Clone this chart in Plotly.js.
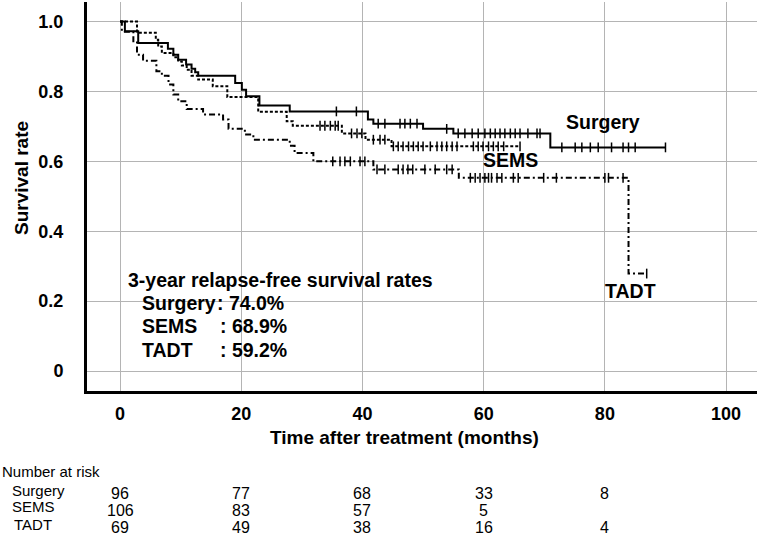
<!DOCTYPE html>
<html>
<head>
<meta charset="utf-8">
<script src="https://cdn.plot.ly/plotly-3.0.1.min.js"></script>
<style>
  body { margin: 0; background: #fff; }
  #chart { width: 762px; height: 535px; }
</style>
</head>
<body>
<div id="chart"></div>
<script>
// step points: time of drop (months) and survival after it
const surgeryTimes = [0, 0.8, 3.0, 7.9, 8.8, 9.6, 10.9, 11.8, 12.4, 12.9, 19.0, 20.1, 20.8, 23.0, 28.0, 40.9, 41.8, 50.0, 55.0, 71.0, 90.0]
const surgerySurv  = [1, 0.972, 0.939, 0.922, 0.905, 0.891, 0.877, 0.865, 0.855, 0.845, 0.824, 0.805, 0.786, 0.760, 0.743, 0.720, 0.708, 0.693, 0.680, 0.640, 0.640]
const surgeryCensor = [35.7, 39.0, 42.6, 43.7, 46.2, 47.0, 47.9, 49.0, 53.9, 55.8, 56.9, 58.1, 59.1, 60.2, 61.1, 61.9, 62.7, 63.5, 64.4, 65.2, 66.0, 67.3, 68.8, 69.3, 72.9, 75.1, 76.2, 77.6, 78.9, 81.1, 83.0, 83.9, 85.0, 90.0]

const semsTimes = [0, 2.8, 5.9, 6.3, 6.9, 8.8, 9.6, 10.2, 11.0, 11.8, 12.9, 15.3, 17.7, 22.8, 27.5, 28.5, 36.6, 40.5, 44.8, 66.0]
const semsSurv  = [1, 0.968, 0.948, 0.929, 0.910, 0.898, 0.886, 0.874, 0.862, 0.845, 0.834, 0.815, 0.784, 0.742, 0.715, 0.702, 0.680, 0.662, 0.643, 0.643]
const semsCensor = [33.0, 33.8, 34.7, 35.5, 36.0, 38.2, 39.1, 39.9, 41.8, 42.9, 43.7, 45.1, 45.9, 46.7, 47.6, 48.4, 49.2, 50.0, 51.2, 52.3, 53.1, 53.9, 54.8, 55.6, 58.3, 59.1, 59.9, 60.8, 61.6, 62.4, 63.3, 66.0]

const tadtTimes = [0, 0.3, 2.2, 2.8, 3.8, 6.0, 6.9, 8.0, 8.8, 9.6, 11.0, 13.7, 17.0, 17.9, 20.6, 22.0, 28.0, 28.8, 31.9, 41.8, 55.9, 83.9, 86.9]
const tadtSurv  = [1, 0.971, 0.940, 0.905, 0.888, 0.858, 0.845, 0.820, 0.791, 0.772, 0.750, 0.734, 0.720, 0.693, 0.677, 0.662, 0.645, 0.624, 0.600, 0.577, 0.553, 0.279, 0.279]
const tadtCensor = [35.1, 36.3, 37.1, 38.0, 39.6, 40.4, 42.4, 43.7, 45.9, 46.7, 47.5, 48.3, 50.3, 52.0, 53.9, 54.8, 57.8, 58.6, 59.4, 60.2, 60.8, 61.3, 62.2, 63.0, 64.9, 65.7, 69.9, 72.0, 80.0, 80.6, 83.0, 86.9]

// number at risk table
const riskTimes = [0, 20, 40, 60, 80]
const riskSurgery = [96, 77, 68, 33, 8]
const riskSEMS = [106, 83, 57, 5, null]
const riskTADT = [69, 49, 38, 16, 4]

const xTicks = [0, 20, 40, 60, 80, 100]
const yTicks = [0, 0.2, 0.4, 0.6, 0.8, 1.0]
const yTickText = ['0', '0.2', '0.4', '0.6', '0.8', '1.0']

const rateLabels = ['Surgery', 'SEMS', 'TADT']
const rateValues = [': 74.0%', ': 68.9%', ': 59.2%']

const FONT = 'Liberation Sans, Arial, sans-serif'

function survAt(times, surv, t) {
    let s = surv[0]
    for (let i = 0; i < times.length; i++) {
        if (times[i] <= t) s = surv[i]
    }
    return s
}

function curve(times, surv, dash) {
    return {
        x: times, y: surv, type: 'scatter', mode: 'lines',
        line: { shape: 'hv', color: '#000', width: 2, dash: dash },
        hoverinfo: 'skip'
    }
}

function censors(times, surv, censor) {
    return {
        x: censor, y: censor.map(t => survAt(times, surv, t)),
        type: 'scatter', mode: 'markers',
        marker: { symbol: 'line-ns', size: 7, line: { color: '#000', width: 1.5 } },
        hoverinfo: 'skip'
    }
}

const traces = [
    curve(surgeryTimes, surgerySurv, 'solid'),
    curve(semsTimes, semsSurv, '3px,2px'),
    curve(tadtTimes, tadtSurv, '6px,3px,2px,3px'),
    censors(surgeryTimes, surgerySurv, surgeryCensor),
    censors(semsTimes, semsSurv, semsCensor),
    censors(tadtTimes, tadtSurv, tadtCensor),
]

const bold = (size) => ({ family: FONT, size: size, color: '#000', weight: 'bold' })
const plain = (size) => ({ family: FONT, size: size, color: '#000' })

function note(x, y, text, font, opts) {
    return Object.assign({ x: x, y: y, xref: 'x', yref: 'y', text: text, showarrow: false,
        xanchor: 'center', yanchor: 'middle', font: font }, opts || {})
}

const annotations = [
    // curve labels
    note(79.7, 0.714, 'Surgery', bold(19.5)),
    note(64.4, 0.605, 'SEMS', bold(19.5)),
    note(84.2, 0.230, 'TADT', bold(19.5)),
    note(1.0, 0.262, '3-year relapse-free survival rates', bold(19.5), { xanchor: 'left' }),
    // axis titles
    note(-0.097, 0.5476, 'Survival rate', bold(19), { xref: 'paper', yref: 'paper', textangle: -90 }),
    note(0.4746, -0.1208, 'Time after treatment (months)', bold(19), { xref: 'paper', yref: 'paper' }),
    note(-0.13, -0.2057, 'Number at risk', plain(15), { xref: 'paper', yref: 'paper', xanchor: 'left' }),
]

const rateY = [0.196, 0.130, 0.0615]
rateLabels.forEach((lab, i) => {
    annotations.push(note(3.3, rateY[i], lab, bold(19.5), { xanchor: 'left' }))
    annotations.push(note(i == 0 ? 15.7 : 16.2, rateY[i], rateValues[i], bold(19.5), { xanchor: 'left' }))
})

const rowY = [-0.2545, -0.298, -0.342]
const rowX = [-0.115, -0.115, -0.112]
const rows = [riskSurgery, riskSEMS, riskTADT]
rateLabels.forEach((lab, i) => {
    annotations.push(note(rowX[i], rowY[i], lab, plain(15), { xref: 'paper', yref: 'paper', xanchor: 'left' }))
    rows[i].forEach((n, j) => {
        if (n == null) return
        annotations.push(note(riskTimes[j], rowY[i] - 0.008, String(n), plain(16), { yref: 'paper' }))
    })
})

const layout = {
    width: 762, height: 535,
    margin: { l: 87, r: 5, t: 2, b: 144 },
    showlegend: false,
    paper_bgcolor: '#fff', plot_bgcolor: '#fff',
    xaxis: {
        range: [-5.45, 105.1], tickvals: xTicks, ticks: '',
        showgrid: true, gridcolor: '#b4b4b4', gridwidth: 1,
        zeroline: false, showline: true, linecolor: '#000', linewidth: 3,
        tickfont: bold(18), ticklabelstandoff: 4
    },
    yaxis: {
        range: [-0.057, 1.056], tickvals: yTicks, ticktext: yTickText, ticks: '',
        showgrid: true, gridcolor: '#b4b4b4', gridwidth: 1,
        zeroline: false, showline: true, linecolor: '#000', linewidth: 3,
        tickfont: bold(18), ticklabelstandoff: 17
    },
    annotations: annotations
}

Plotly.newPlot('chart', traces, layout, { staticPlot: true })
</script>
</body>
</html>
